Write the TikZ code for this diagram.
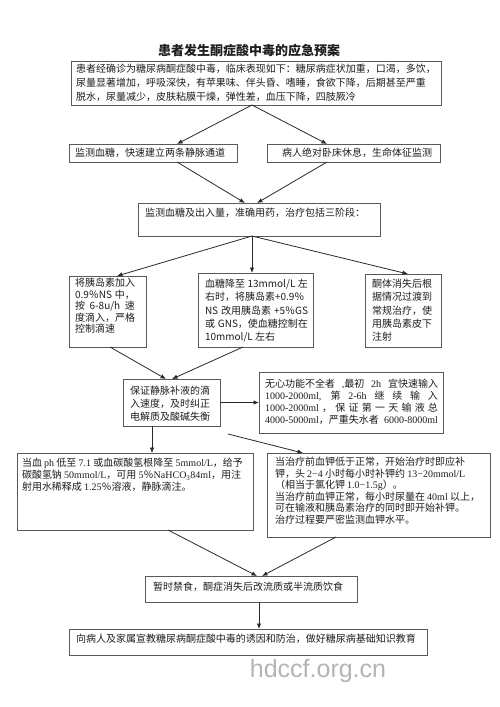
\documentclass[tikz,border=0pt]{standalone}
\usepackage{fontspec}
\setmainfont{Noto Sans CJK SC}
\newfontfamily\tms{Liberation Serif}
\newfontfamily\wmfont{Liberation Sans}
\usetikzlibrary{arrows.meta}
\definecolor{boxline}{HTML}{5A5A5A}
\definecolor{conn}{HTML}{2A2A2A}
\definecolor{txt}{HTML}{1E1E1E}
\definecolor{wm}{HTML}{B4B4B4}
% #1 font size, #2 width, #3 height, #4 left pad, #5 top pad, #6 baselineskip, #7 text
\newcommand\tbx[7]{\parbox[c][#3pt][t]{#2pt}{\fontsize{#1}{#6}\selectfont\leftskip=#4pt\rightskip=0pt plus 1fil\parindent=0pt\parfillskip=0pt plus 1fil\vspace*{#5pt}#7}}
\begin{document}
\begin{tikzpicture}[x=1pt,y=-1pt,
  box/.style={draw=boxline, line width=0.9pt, inner sep=0pt, outer sep=0pt, anchor=north west, text=txt},
  arr/.style={draw=conn, line width=0.8pt, -{Latex[length=5.5pt,width=4.5pt]}}]
\useasboundingbox[fill=white] (0,0) rectangle (500,707);

\node[text=txt, font=\bfseries\fontsize{13}{15}\selectfont] (title) at (249,51) {患者发生酮症酸中毒的应急预案};

\node[box] (b1) at (71,61) {\tbx{10}{370}{44}{5}{3.3}{14}{患者经确诊为糖尿病酮症酸中毒，临床表现如下：糖尿病症状加重，口渴，多饮，\\尿量显著增加，呼吸深快，有苹果味、伴头昏、嗜睡，食欲下降，后期甚至严重\\脱水，尿量减少，皮肤粘膜干燥，弹性差，血压下降，四肢厥冷}};

\node[box] (b2l) at (69,144) {\tbx{10}{168}{18}{6}{4.3}{13}{监测血糖，快速建立两条静脉通道}};
\node[box] (b2r) at (267,144) {\tbx{10}{173}{18}{15}{4.3}{13}{病人绝对卧床休息，生命体征监测}};

\node[box] (b3) at (138,203) {\tbx{10}{242}{33}{7}{5.3}{13}{监测血糖及出入量，准确用药，治疗包括三阶段：}};

\node[box] (b4a) at (69,276) {\tbx{10}{77}{71}{6}{2.3}{11.5}{将胰岛素加入\\\makebox[60pt][s]{0.9％NS 中，}\\\makebox[60pt][s]{按 6-8u/h 速}\\度滴入，严格\\控制滴速}};
\node[box] (b4b) at (198,273) {\tbx{10}{115}{74}{7}{6.3}{13.25}{\makebox[103pt][s]{血糖降至 13mmol/L 左}\\右时，将胰岛素+0.9％\\\makebox[103pt][s]{NS 改用胰岛素 +5％GS}\\\makebox[103pt][s]{或 GNS，使血糖控制在}\\10mmol/L 左右}};
\node[box] (b4c) at (365,274) {\tbx{10}{76}{73}{7}{5.3}{13.25}{酮体消失后根\\据情况过渡到\\常规治疗，使\\用胰岛素皮下\\注射}};

\node[box] (b5) at (123,379) {\tbx{10}{97}{47}{7}{7.3}{12.8}{保证静脉补液的滴\\入速度，及时纠正\\电解质及酸碱失衡}};
\node[box] (b6) at (259,372) {\tbx{10}{184}{61}{6}{7.3}{12}{\makebox[173pt][s]{无心功能不全者 {\tms ,}最初 {\tms 2h} 宜快速输入}\\\makebox[173pt][s]{{\tms 1000-2000ml,} 第 {\tms 2-6h} 继 续 输 入}\\\makebox[173pt][s]{{\tms 1000-2000ml} ， 保 证 第 一 天 输 液 总}\\\makebox[173pt][s]{{\tms 4000-5000ml}，严重失水者 {\tms 6000-8000ml}}}};

\node[box] (b7) at (17,453) {\tbx{10}{236}{77}{5}{5.3}{12}{当血 {\tms ph} 低至 {\tms 7.1} 或血碳酸氢根降至 {\tms 5mmol/L}，给予\\碳酸氢钠 {\tms 50mmol/L}，可用 {\tms 5}％{\tms NaHCO\textsubscript{3}84ml}，用注\\射用水稀释成 {\tms 1.25}％溶液，静脉滴注。}};
\node[box] (b8) at (267,453) {\tbx{10}{223}{84}{8}{4.3}{11.5}{当治疗前血钾低于正常，开始治疗时即应补\\钾，头 {\tms 2−4} 小时每小时补钾约 {\tms 13−20mmol/L}\\（相当于氯化钾 {\tms 1.0−1.5g}）。\\当治疗前血钾正常，每小时尿量在 {\tms 40ml} 以上，\\可在输液和胰岛素治疗的同时即开始补钾。\\治疗过程要严密监测血钾水平。}};

\node[box] (b9) at (145,576) {\tbx{10}{212}{26}{8}{6.3}{13}{暂时禁食，酮症消失后改流质或半流质饮食}};
\node[box] (b10) at (69,629) {\tbx{10}{358}{26}{7}{5.3}{13}{向病人及家属宣教糖尿病酮症酸中毒的诱因和防治，做好糖尿病基础知识教育}};

\node[text=wm, font=\wmfont\fontsize{25}{25}\selectfont] (wmk) at (318,671) {hdccf.org.cn};

\draw[arr] ([xshift=181]b1.south west) -- ([xshift=108]b2l.north west);
\draw[arr] ([xshift=181]b1.south west) -- ([xshift=60]b2r.north west);
\draw[arr] ([xshift=108]b2l.south west) -- ([xshift=107]b3.north west);
\draw[arr] ([xshift=60]b2r.south west) -- ([xshift=119]b3.north west);
\draw[arr] ([xshift=114]b3.south west) -- ([xshift=48]b4a.north west);
\draw[arr] ([xshift=114]b3.south west) -- ([xshift=54]b4b.north west);
\draw[arr] ([xshift=114]b3.south west) -- ([xshift=43]b4c.north west);
\draw[arr] ([xshift=41]b4a.south west) -- ([xshift=43]b5.north west);
\draw[arr] ([xshift=45]b4b.south west) -- ([xshift=49]b5.north west);
\draw[arr] (b5.east) -- (b6.west);
\draw[arr] ([xshift=29]b5.south west) -- ([xshift=135]b7.north west);
\draw[arr] ([xshift=105,yshift=-8]b5.south west) -- ([xshift=36]b8.north west);
\draw[arr] ([xshift=151]b7.south west) -- ([xshift=112]b9.north west);
\draw[arr] ([xshift=69]b8.south west) -- ([xshift=117]b9.north west);
\draw[arr] ([xshift=114]b9.south west) -- ([xshift=190]b10.north west);
\end{tikzpicture}
\end{document}
